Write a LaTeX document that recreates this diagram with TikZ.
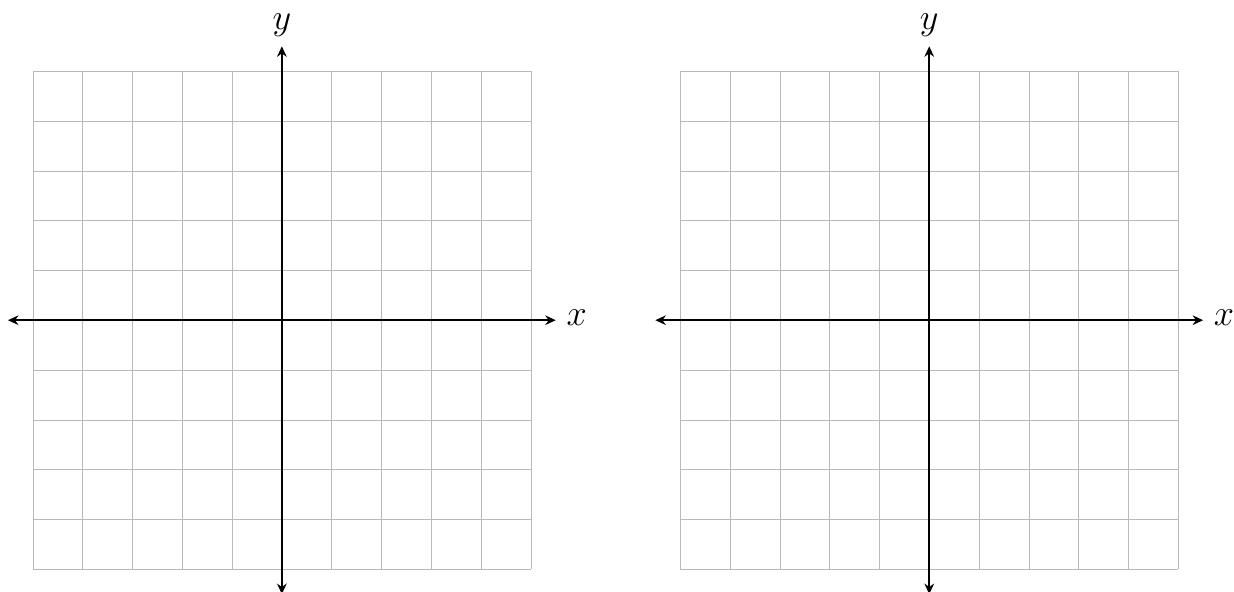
\documentclass[tikz,border=0pt]{standalone}
\usepackage{amsmath}
\usepackage{amssymb}
\usepackage{xcolor}
\usepackage{tikz}
\usetikzlibrary{arrows.meta}

\tikzset{
    gridline/.style={gray!55, very thin},
    axisline/.style={line width=0.9pt, {Stealth[length=6pt,width=5.5pt]}-{Stealth[length=6pt,width=5.5pt]}},
    axislabel/.style={font=\huge}
}

\begin{document}
\begin{tikzpicture}
            \useasboundingbox (-5.66, -5.44) rectangle (19.12, 6.43);

            \foreach \shift/\name in {0/L, 13/R} {
                \begin{scope}[xshift=\shift cm]
                    \draw[gridline] (-5, -5) grid (5, 5);

                    \coordinate (\name west) at (-5.5, 0);
                    \coordinate (\name east) at (5.5, 0);
                    \coordinate (\name south) at (0, -5.5);
                    \coordinate (\name north) at (0, 5.5);

                    \draw[axisline] (\name west) -- (\name east);
                    \draw[axisline] (\name south) -- (\name north);

                    \node[axislabel] (\name xlabel) at (5.92, 0.05) {$x$};
                    \node[axislabel] (\name ylabel) at (0, 5.92) {$y$};
                \end{scope}
            }
        \end{tikzpicture}
\end{document}
